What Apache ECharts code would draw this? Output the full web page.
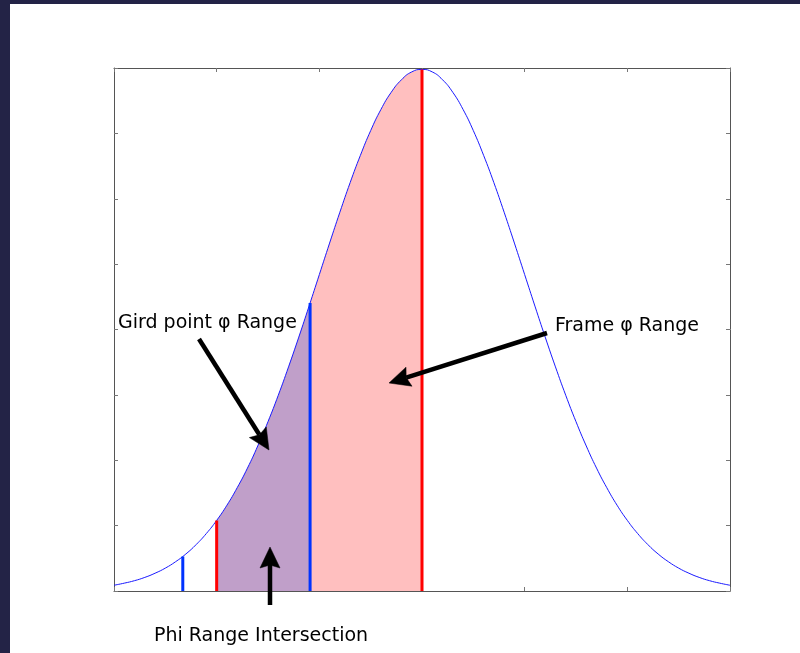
<!DOCTYPE html>
<html>
<head>
<meta charset="utf-8">
<script src="https://cdn.jsdelivr.net/npm/echarts@6/dist/echarts.min.js"></script>
<style>
  html, body { margin: 0; padding: 0; background: #ffffff; }
  #chart { position: absolute; left: 0; top: 0; width: 800px; height: 653px; background: #ffffff; }
  .frame-left { position: absolute; left: 0; top: 0; width: 10px; height: 653px; background: #232346; z-index: 5; }
  .frame-top { position: absolute; left: 0; top: 0; width: 800px; height: 4px; background: #232346; z-index: 5; }
</style>
</head>
<body>
<div id="chart"></div>
<div class="frame-left"></div>
<div class="frame-top"></div>
<script>
// Sampled density curve over phi
const phi = [-3.0, -2.9, -2.8, -2.7, -2.6, -2.5, -2.4, -2.3, -2.2, -2.1,
             -2.0, -1.9, -1.8, -1.7, -1.6, -1.5, -1.4, -1.3, -1.2, -1.1,
             -1.0, -0.9, -0.8, -0.7, -0.6, -0.5, -0.4, -0.3, -0.2, -0.1,
             0.0, 0.1, 0.2, 0.3, 0.4, 0.5, 0.6, 0.7, 0.8, 0.9,
             1.0, 1.1, 1.2, 1.3, 1.4, 1.5, 1.6, 1.7, 1.8, 1.9,
             2.0, 2.1, 2.2, 2.3, 2.4, 2.5, 2.6, 2.7, 2.8, 2.9, 3.0];
const density = [0.0044, 0.0060, 0.0079, 0.0104, 0.0136, 0.0175, 0.0224, 0.0283, 0.0355, 0.0440,
                 0.0540, 0.0656, 0.0790, 0.0940, 0.1109, 0.1295, 0.1497, 0.1714, 0.1942, 0.2179,
                 0.2420, 0.2661, 0.2897, 0.3123, 0.3332, 0.3521, 0.3683, 0.3814, 0.3910, 0.3970,
                 0.3989, 0.3970, 0.3910, 0.3814, 0.3683, 0.3521, 0.3332, 0.3123, 0.2897, 0.2661,
                 0.2420, 0.2179, 0.1942, 0.1714, 0.1497, 0.1295, 0.1109, 0.0940, 0.0790, 0.0656,
                 0.0540, 0.0440, 0.0355, 0.0283, 0.0224, 0.0175, 0.0136, 0.0104, 0.0079, 0.0060, 0.0044];

// Range boundaries: grid point range and frame range
const gridRange = [-2.33, -1.09];
const gridRangeTop = [0.0264, 0.2203];
const frameRange = [-2.0, 0.0];
const frameRangeTop = [0.0540, 0.3989];

// Axis ticks (no labels shown)
const xTicks = [-3, 3, 1];
const yTicks = [0, 0.4, 0.05];

const labels = ['Gird point φ Range', 'Frame φ Range', 'Phi Range Intersection'];

// Build an area outline under the curve between two phi bounds
function areaBetween(x0, y0, x1, y1) {
  const pts = [[x0, y0]];
  phi.forEach((x, i) => { if (x > x0 + 1e-9 && x < x1 - 1e-9) pts.push([x, density[i]]); });
  pts.push([x1, y1]);
  return pts;
}

const interLo = Math.max(gridRange[0], frameRange[0]);
const interLoTop = interLo === frameRange[0] ? frameRangeTop[0] : gridRangeTop[0];
const interHi = Math.min(gridRange[1], frameRange[1]);
const interHiTop = interHi === gridRange[1] ? gridRangeTop[1] : frameRangeTop[1];

const chart = echarts.init(document.getElementById('chart'), null, { renderer: 'canvas' });

const axisLine = { show: true, onZero: false, lineStyle: { color: '#555555', width: 1 } };
const axisTick = { show: true, inside: true, length: 4, lineStyle: { color: '#777777', width: 1 } };

function makeX(position) {
  return {
    type: 'value', position: position, min: xTicks[0], max: xTicks[1], interval: xTicks[2],
    axisLine: axisLine, axisTick: axisTick, axisLabel: { show: false }, splitLine: { show: false }
  };
}
function makeY(position) {
  return {
    type: 'value', position: position, min: yTicks[0], max: yTicks[1], interval: yTicks[2],
    axisLine: axisLine, axisTick: axisTick, axisLabel: { show: false }, splitLine: { show: false }
  };
}

function rangeLine(x, top, color) {
  return {
    type: 'line', data: [[x, 0], [x, top]], symbol: 'none', silent: true, z: 5,
    lineStyle: { color: color, width: 3 }
  };
}

const series = [
  {
    // intersection of both ranges
    type: 'line', smooth: true, symbol: 'none', silent: true, z: 1,
    data: areaBetween(interLo, interLoTop, interHi, interHiTop),
    lineStyle: { width: 0, opacity: 0 },
    areaStyle: { color: '#c09fc9', opacity: 1 }
  },
  {
    // remainder of the frame range
    type: 'line', smooth: true, symbol: 'none', silent: true, z: 1,
    data: areaBetween(interHi, interHiTop, frameRange[1], frameRangeTop[1]),
    lineStyle: { width: 0, opacity: 0 },
    areaStyle: { color: '#ffbfbf', opacity: 1 }
  },
  {
    type: 'line', smooth: true, symbol: 'none', silent: true, z: 3,
    data: phi.map((x, i) => [x, density[i]]),
    lineStyle: { color: '#1a1aff', width: 1 }
  },
  rangeLine(gridRange[0], gridRangeTop[0], '#0033ff'),
  rangeLine(gridRange[1], gridRangeTop[1], '#0033ff'),
  rangeLine(frameRange[0], frameRangeTop[0], '#ff0000'),
  rangeLine(frameRange[1], frameRangeTop[1], '#ff0000')
];

// Thick black arrow: shaft plus a filled head with a slight notch
function arrow(tail, tip) {
  const dx = tip[0] - tail[0], dy = tip[1] - tail[1];
  const len = Math.hypot(dx, dy);
  const ux = dx / len, uy = dy / len, nx = -uy, ny = ux;
  const L = 21, W = 10, notch = 3;
  const bx = tip[0] - L * ux, by = tip[1] - L * uy;
  const mx = tip[0] - (L - notch) * ux, my = tip[1] - (L - notch) * uy;
  return [
    { type: 'line', z: 100, shape: { x1: tail[0], y1: tail[1], x2: mx, y2: my },
      style: { stroke: '#000000', lineWidth: 4.5, lineCap: 'butt' } },
    { type: 'polygon', z: 100, shape: { points: [tip, [bx + W * nx, by + W * ny], [mx, my], [bx - W * nx, by - W * ny]] },
      style: { fill: '#000000', stroke: '#000000', lineWidth: 0.5 } }
  ];
}

const textFont = '19px "DejaVu Sans", sans-serif';
const graphics = [].concat(
  arrow([199, 339], [269, 450]),
  arrow([547, 333], [389, 383]),
  arrow([270, 605], [270, 547]),
  [
    { type: 'text', z: 100, style: { x: 118, y: 323, text: labels[0], font: textFont, fill: '#000000', verticalAlign: 'middle' } },
    { type: 'text', z: 100, style: { x: 555, y: 326, text: labels[1], font: textFont, fill: '#000000', verticalAlign: 'middle' } },
    { type: 'text', z: 100, style: { x: 154, y: 636, text: labels[2], font: textFont, fill: '#000000', verticalAlign: 'middle' } }
  ]
);

chart.setOption({
  backgroundColor: '#ffffff',
  animation: false,
  grid: { left: 114, right: 70, top: 68, bottom: 62, containLabel: false },
  xAxis: [makeX('bottom'), makeX('top')],
  yAxis: [makeY('left'), makeY('right')],
  series: series,
  graphic: graphics
});
</script>
</body>
</html>
